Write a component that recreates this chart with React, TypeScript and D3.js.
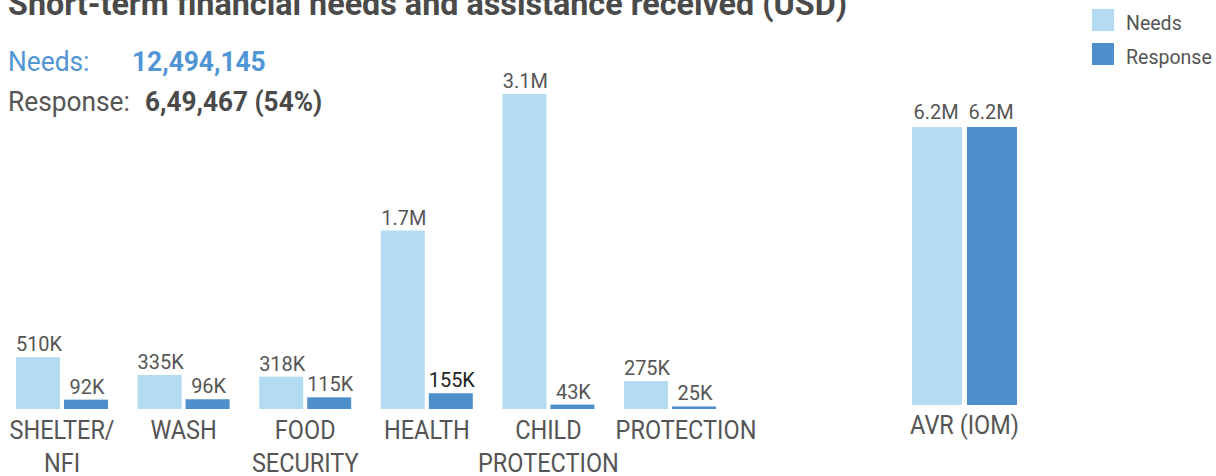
import React from "react";
import * as d3 from "d3";

const categories = ["SHELTER/\nNFI", "WASH", "FOOD\nSECURITY", "HEALTH", "CHILD\nPROTECTION", "PROTECTION"];
const needsValues = [510000, 335000, 318000, 1756000, 3100000, 275000];
const responseValues = [92000, 96000, 115000, 155000, 43000, 25000];
const needsLabels = ["510K", "335K", "318K", "1.7M", "3.1M", "275K"];
const responseLabels = ["92K", "96K", "115K", "155K", "43K", "25K"];

const avrCategory = "AVR (IOM)";
const avrNeeds = 6200000;
const avrResponse = 6200000;
const avrNeedsLabel = "6.2M";
const avrResponseLabel = "6.2M";

const seriesNames = ["Needs", "Response"];
const title = "Short-term financial needs and assistance received (USD)";
const needsTotal = "12,494,145";
const responseTotal = "6,49,467 (54%)";

const W = 1216;
const H = 476;
const SX = 0.95;
const FONT = "Roboto, 'Noto Sans', sans-serif";
const TEXT = "#555555";
const C_NEEDS = "#b3dcf2";
const C_RESP = "#4f8fcc";
const C_BLUE_TEXT = "#5096d4";
const labelShift: Record<string, number> = { PROTECTION: 16 };

function T({ x, y, size, anchor = "start", weight = 400, fill = TEXT, children, sx = SX }: any) {
  return (
    <text
      transform={`translate(${x},${y}) scale(${sx},1)`}
      fontSize={size}
      fontFamily={FONT}
      fontWeight={weight}
      textAnchor={anchor}
      fill={fill}
    >
      {children}
    </text>
  );
}

export default function App() {
  const x = d3.scaleBand<string>().domain(categories).range([16, 716]).paddingInner(0.2434).paddingOuter(0);
  const xs = d3.scaleBand<string>().domain(seriesNames).range([0, x.bandwidth()]).paddingInner(4 / 48);
  const y = d3.scaleLinear().domain([0, d3.max(needsValues) as number]).range([409, 94]);

  const xa = d3.scaleBand<string>().domain([avrCategory]).range([912, 1017]);
  const xas = d3.scaleBand<string>().domain(seriesNames).range([0, xa.bandwidth()]).paddingInner(5 / 55);
  const ya = d3.scaleLinear().domain([0, avrNeeds]).range([405, 127]);

  return (
    <svg width={W} height={H} style={{ position: "absolute", left: 0, top: 0, background: "#fff" }}>
      <T x={8} y={15} size={34} weight={700} fill="#4a4a4a" sx={0.95}>{title}</T>

      <T x={8} y={71} size={28} fill={C_BLUE_TEXT} sx={0.94}>Needs:</T>
      <T x={132} y={71} size={28} weight={700} fill={C_BLUE_TEXT} sx={0.94}>{needsTotal}</T>
      <T x={8} y={111} size={28} fill={TEXT} sx={0.94}>Response:</T>
      <T x={145} y={111} size={28} weight={700} fill="#4a4a4a" sx={0.935}>{responseTotal}</T>

      {/* legend */}
      {seriesNames.map((s, i) => (
        <g key={s}>
          <rect x={1092} y={9 + i * 34} width={22} height={22} fill={i === 0 ? C_NEEDS : C_RESP} />
          <T x={1126} y={30 + i * 34} size={21} sx={0.93}>{s}</T>
        </g>
      ))}

      {categories.map((c, i) => {
        const gx = x(c) as number;
        const vals = [needsValues[i], responseValues[i]];
        const labs = [needsLabels[i], responseLabels[i]];
        const lines = c.split("\n");
        const shift = labelShift[c] || 0;
        return (
          <g key={c}>
            {seriesNames.map((s, j) => {
              const bx = gx + (xs(s) as number);
              const top = y(vals[j]);
              return (
                <g key={s}>
                  <rect x={bx} y={top} width={xs.bandwidth()} height={y(0) - top} fill={j === 0 ? C_NEEDS : C_RESP} />
                  <T x={bx + xs.bandwidth() / 2 + 1} y={top - 6} size={21} anchor="middle" fill={c === "HEALTH" && j === 1 ? "#222" : TEXT}>
                    {labs[j]}
                  </T>
                </g>
              );
            })}
            {lines.map((l, k) => (
              <T key={k} x={gx + x.bandwidth() / 2 + shift} y={y(0) + 30 + k * 33} size={25} anchor="middle" sx={0.94}>{l}</T>
            ))}
          </g>
        );
      })}

      {(() => {
        const gx = xa(avrCategory) as number;
        const vals = [avrNeeds, avrResponse];
        const labs = [avrNeedsLabel, avrResponseLabel];
        return (
          <g>
            {seriesNames.map((s, j) => {
              const bx = gx + (xas(s) as number);
              const top = ya(vals[j]);
              return (
                <g key={s}>
                  <rect x={bx} y={top} width={xas.bandwidth()} height={ya(0) - top} fill={j === 0 ? C_NEEDS : C_RESP} />
                  <T x={bx + xas.bandwidth() / 2 - 1} y={top - 8} size={21} anchor="middle">{labs[j]}</T>
                </g>
              );
            })}
            <T x={gx + xa.bandwidth() / 2} y={ya(0) + 29} size={25} anchor="middle" sx={0.94}>{avrCategory}</T>
          </g>
        );
      })()}
    </svg>
  );
}
